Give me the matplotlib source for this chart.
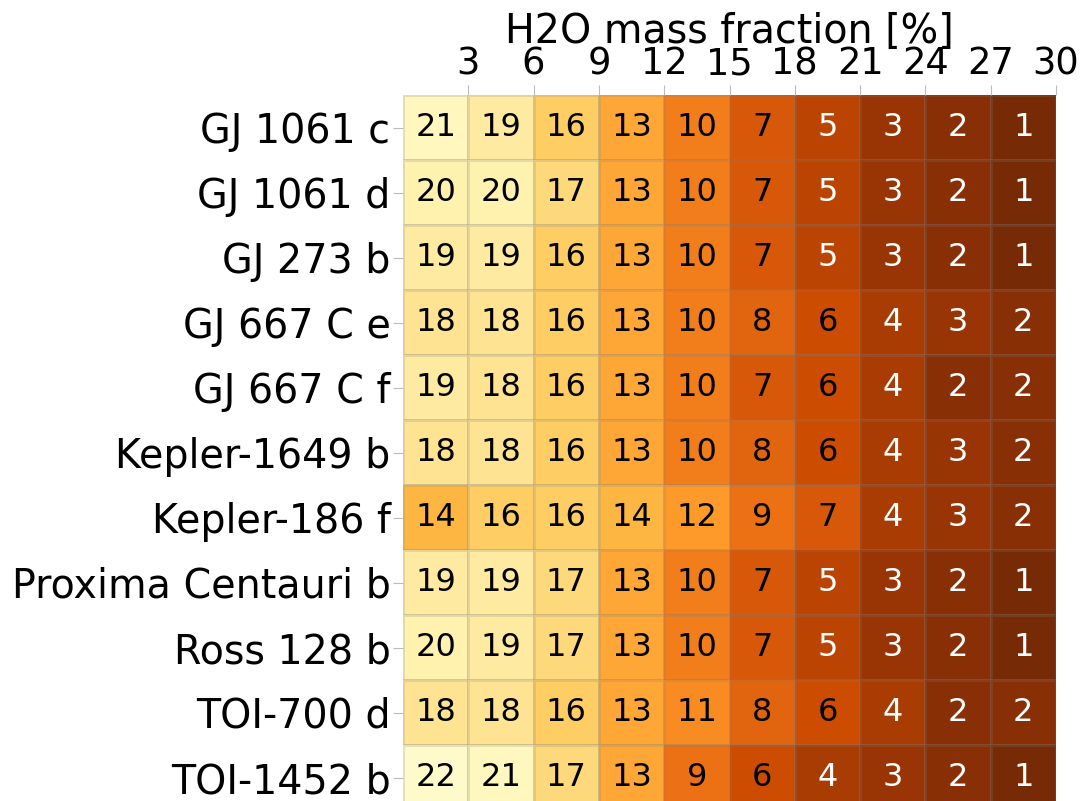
import numpy as np
import matplotlib
matplotlib.use("Agg")
import matplotlib.pyplot as plt

planets = ["GJ 1061 c", "GJ 1061 d", "GJ 273 b", "GJ 667 C e", "GJ 667 C f",
           "Kepler-1649 b", "Kepler-186 f", "Proxima Centauri b", "Ross 128 b",
           "TOI-700 d", "TOI-1452 b"]
h2o_fraction = [3, 6, 9, 12, 15, 18, 21, 24, 27, 30]

counts = np.array([
    [21, 19, 16, 13, 10, 7, 5, 3, 2, 1],
    [20, 20, 17, 13, 10, 7, 5, 3, 2, 1],
    [19, 19, 16, 13, 10, 7, 5, 3, 2, 1],
    [18, 18, 16, 13, 10, 8, 6, 4, 3, 2],
    [19, 18, 16, 13, 10, 7, 6, 4, 2, 2],
    [18, 18, 16, 13, 10, 8, 6, 4, 3, 2],
    [14, 16, 16, 14, 12, 9, 7, 4, 3, 2],
    [19, 19, 17, 13, 10, 7, 5, 3, 2, 1],
    [20, 19, 17, 13, 10, 7, 5, 3, 2, 1],
    [18, 18, 16, 13, 11, 8, 6, 4, 2, 2],
    [22, 21, 17, 13, 9, 6, 4, 3, 2, 1],
])

fig = plt.figure(figsize=(10.85, 8.01), dpi=100)
ax = fig.add_axes([403 / 1085, -9 / 801, 653 / 1085, 715 / 801])

xedges = np.concatenate([[0], h2o_fraction])
yedges = np.arange(len(planets) + 1)
ax.pcolormesh(xedges, yedges, counts, cmap="YlOrBr_r", vmin=0, vmax=24,
              edgecolors=(0.5, 0.5, 0.5, 0.2), linewidth=0.8)

xc = (xedges[:-1] + xedges[1:]) / 2
for i in range(len(planets)):
    for j in range(len(h2o_fraction)):
        v = counts[i, j]
        ax.text(xc[j], i + 0.5, str(v), ha="center", va="center", fontsize=23,
                color="white" if v <= 5 else "black")

ax.set_xlim(0, 30)
ax.set_ylim(len(planets), 0)
ax.xaxis.tick_top()
ax.xaxis.set_label_position("top")
ax.set_xticks(h2o_fraction)
ax.set_xticklabels([str(x) for x in h2o_fraction], fontsize=26.5)
ax.set_yticks(np.arange(len(planets)) + 0.5)
ax.set_yticklabels(planets, fontsize=28.5)
ax.set_xlabel("H2O mass fraction [%]", fontsize=28.5, labelpad=2)
ax.tick_params(axis="both", length=7, color="#bbbbbb", pad=2)
for s in ax.spines.values():
    s.set_visible(False)

fig.savefig("out.png", dpi=100)
